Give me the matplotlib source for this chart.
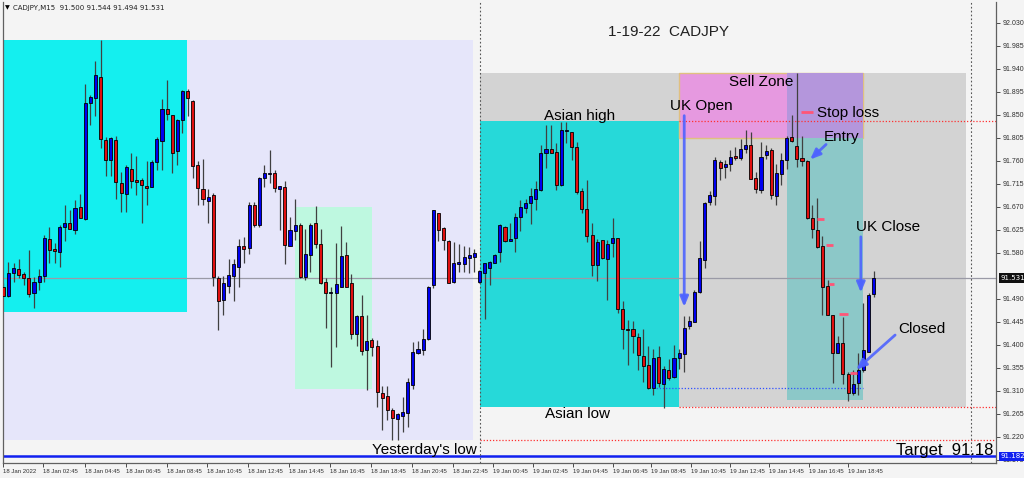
"""CADJPY M15 chart, 18-19 Jan 2022, with session boxes and trade notes."""

import matplotlib as mpl
import matplotlib.pyplot as plt
import matplotlib.transforms as mtransforms
from matplotlib.patches import Rectangle
import numpy as np

mpl.rcParams["font.family"] = ["Liberation Sans", "DejaVu Sans"]

# ---- candles (M15), bar 0 = first visible bar --------------------------------
OPEN = [
    91.514, 91.495, 91.541, 91.549, 91.538, 91.530, 91.501, 91.523, 91.534, 91.607,
    91.588, 91.581, 91.630, 91.639, 91.625, 91.669, 91.646, 91.873, 91.884, 91.924,
    91.801, 91.761, 91.801, 91.716, 91.695, 91.744, 91.722, 91.722, 91.711, 91.710,
    91.758, 91.800, 91.862, 91.850, 91.780, 91.840, 91.896, 91.878, 91.752, 91.706,
    91.682, 91.693, 91.530, 91.487, 91.516, 91.534, 91.553, 91.594, 91.589, 91.674,
    91.635, 91.726, 91.735, 91.737, 91.706, 91.710, 91.594, 91.622, 91.635, 91.532,
    91.576, 91.638, 91.598, 91.524, 91.501, 91.501, 91.514, 91.576, 91.521, 91.421,
    91.457, 91.391, 91.410, 91.398, 91.305, 91.300, 91.273, 91.256, 91.260, 91.267,
    91.322, 91.385, 91.390, 91.411, 91.517, 91.658, 91.628, 91.604, 91.523, 91.558,
    91.558, 91.571, 91.573, 91.524, 91.541, 91.551, 91.561, 91.581, 91.631, 91.604,
    91.609, 91.650, 91.667, 91.678, 91.686, 91.703, 91.775, 91.783, 91.777, 91.712,
    91.819, 91.816, 91.787, 91.701, 91.666, 91.615, 91.556, 91.605, 91.568, 91.600,
    91.609, 91.470, 91.431, 91.431, 91.416, 91.378, 91.361, 91.315, 91.376, 91.323,
    91.351, 91.337, 91.374, 91.382, 91.438, 91.444, 91.504, 91.566, 91.679, 91.692,
    91.757, 91.748, 91.754, 91.770, 91.766, 91.783, 91.791, 91.726, 91.703, 91.772,
    91.781, 91.692, 91.734, 91.762, 91.806, 91.789, 91.765, 91.759, 91.648, 91.625,
    91.594, 91.516, 91.459, 91.385, 91.403, 91.343, 91.305, 91.325, 91.350, 91.387,
    91.500,
]
HIGH = [
    91.521, 91.563, 91.560, 91.568, 91.543, 91.586, 91.532, 91.549, 91.615, 91.630,
    91.599, 91.635, 91.673, 91.665, 91.684, 91.695, 91.911, 91.889, 91.956, 91.997,
    91.806, 91.806, 91.808, 91.739, 91.752, 91.775, 91.770, 91.726, 91.759, 91.762,
    91.806, 91.881, 91.918, 91.850, 91.843, 91.899, 91.900, 91.879, 91.759, 91.763,
    91.705, 91.697, 91.534, 91.534, 91.568, 91.568, 91.607, 91.611, 91.680, 91.680,
    91.729, 91.752, 91.781, 91.742, 91.711, 91.720, 91.650, 91.686, 91.638, 91.627,
    91.638, 91.671, 91.626, 91.530, 91.514, 91.599, 91.633, 91.602, 91.539, 91.459,
    91.498, 91.459, 91.413, 91.410, 91.320, 91.320, 91.276, 91.267, 91.299, 91.335,
    91.406, 91.408, 91.431, 91.515, 91.665, 91.659, 91.630, 91.605, 91.602, 91.598,
    91.594, 91.592, 91.587, 91.547, 91.560, 91.564, 91.578, 91.637, 91.633, 91.639,
    91.659, 91.684, 91.685, 91.708, 91.720, 91.791, 91.830, 91.830, 91.795, 91.837,
    91.837, 91.817, 91.798, 91.708, 91.723, 91.639, 91.607, 91.605, 91.605, 91.648,
    91.610, 91.485, 91.449, 91.446, 91.423, 91.431, 91.397, 91.393, 91.397, 91.358,
    91.372, 91.400, 91.393, 91.457, 91.457, 91.508, 91.604, 91.680, 91.702, 91.768,
    91.762, 91.762, 91.782, 91.787, 91.803, 91.821, 91.817, 91.739, 91.798, 91.791,
    91.785, 91.755, 91.775, 91.809, 91.850, 91.932, 91.809, 91.762, 91.674, 91.688,
    91.613, 91.527, 91.459, 91.418, 91.455, 91.348, 91.351, 91.384, 91.483, 91.501,
    91.544,
]
LOW = [
    91.495, 91.494, 91.524, 91.530, 91.517, 91.494, 91.472, 91.508, 91.524, 91.560,
    91.560, 91.553, 91.604, 91.626, 91.618, 91.649, 91.645, 91.830, 91.847, 91.785,
    91.731, 91.731, 91.685, 91.661, 91.661, 91.707, 91.693, 91.638, 91.673, 91.710,
    91.742, 91.742, 91.840, 91.737, 91.752, 91.814, 91.847, 91.726, 91.674, 91.674,
    91.638, 91.515, 91.429, 91.459, 91.501, 91.485, 91.514, 91.560, 91.578, 91.631,
    91.631, 91.710, 91.716, 91.700, 91.625, 91.558, 91.594, 91.605, 91.530, 91.528,
    91.543, 91.589, 91.520, 91.434, 91.356, 91.395, 91.514, 91.514, 91.411, 91.398,
    91.380, 91.312, 91.379, 91.278, 91.234, 91.253, 91.214, 91.214, 91.230, 91.240,
    91.313, 91.382, 91.380, 91.410, 91.511, 91.604, 91.586, 91.521, 91.521, 91.543,
    91.543, 91.541, 91.543, 91.522, 91.450, 91.517, 91.560, 91.563, 91.602, 91.604,
    91.581, 91.622, 91.659, 91.637, 91.664, 91.702, 91.746, 91.775, 91.703, 91.711,
    91.795, 91.762, 91.695, 91.658, 91.602, 91.534, 91.526, 91.568, 91.487, 91.573,
    91.462, 91.393, 91.361, 91.385, 91.351, 91.328, 91.313, 91.302, 91.318, 91.276,
    91.331, 91.335, 91.352, 91.348, 91.432, 91.444, 91.501, 91.550, 91.673, 91.673,
    91.723, 91.727, 91.740, 91.762, 91.761, 91.775, 91.724, 91.698, 91.698, 91.763,
    91.685, 91.674, 91.713, 91.744, 91.798, 91.748, 91.750, 91.646, 91.609, 91.589,
    91.459, 91.459, 91.326, 91.384, 91.324, 91.291, 91.302, 91.302, 91.348, 91.387,
    91.494,
]
CLOSE = [
    91.496, 91.541, 91.551, 91.536, 91.530, 91.500, 91.523, 91.535, 91.609, 91.585,
    91.584, 91.631, 91.638, 91.626, 91.667, 91.649, 91.874, 91.886, 91.928, 91.802,
    91.762, 91.804, 91.718, 91.698, 91.748, 91.720, 91.719, 91.712, 91.708, 91.757,
    91.802, 91.862, 91.851, 91.776, 91.840, 91.897, 91.883, 91.750, 91.708, 91.685,
    91.690, 91.532, 91.486, 91.521, 91.537, 91.558, 91.594, 91.588, 91.674, 91.635,
    91.726, 91.736, 91.737, 91.708, 91.711, 91.596, 91.624, 91.635, 91.532, 91.578,
    91.635, 91.598, 91.522, 91.501, 91.504, 91.519, 91.574, 91.514, 91.421, 91.457,
    91.389, 91.408, 91.395, 91.307, 91.297, 91.273, 91.258, 91.265, 91.269, 91.327,
    91.387, 91.392, 91.411, 91.514, 91.665, 91.625, 91.605, 91.522, 91.560, 91.562,
    91.573, 91.576, 91.579, 91.545, 91.560, 91.562, 91.575, 91.635, 91.604, 91.607,
    91.650, 91.669, 91.678, 91.691, 91.705, 91.775, 91.783, 91.775, 91.712, 91.821,
    91.821, 91.788, 91.700, 91.666, 91.613, 91.556, 91.602, 91.570, 91.598, 91.609,
    91.470, 91.431, 91.429, 91.418, 91.380, 91.359, 91.315, 91.375, 91.326, 91.352,
    91.335, 91.374, 91.384, 91.434, 91.446, 91.503, 91.570, 91.678, 91.693, 91.761,
    91.747, 91.755, 91.767, 91.765, 91.783, 91.791, 91.724, 91.706, 91.768, 91.780,
    91.693, 91.736, 91.762, 91.804, 91.800, 91.764, 91.759, 91.648, 91.626, 91.591,
    91.514, 91.459, 91.385, 91.404, 91.343, 91.305, 91.324, 91.351, 91.390, 91.498,
    91.531,
]

# session / zone boxes: (first bar, last bar, low, high)
PREV_DAY_BOX = (-0.1, 91.7, 91.214, 91.997)
MORNING_BOX = (-0.1, 35.9, 91.464, 91.997)
AFTERNOON_BOX = (57.0, 72.0, 91.314, 91.670)
TODAY_BOX = (93.1, 188.0, 91.279, 91.932)
ASIAN_BOX = (93.1, 132.0, 91.279, 91.838)
SELL_ZONE = (132.0, 167.9, 91.805, 91.932)
TRADE_BOX = (153.1, 167.9, 91.292, 91.932)

BID = 91.531
TARGET = 91.182
ASIAN_HIGH = 91.838
ASIAN_LOW = 91.279
YESTERDAY_LOW = 91.214
ENTRY_LEVEL = 91.315

# trailing stop marks: (bar from, bar to, price)
STOP_MARKS = [
    (155.9, 158.1, 91.855),
    (158.9, 160.4, 91.647),
    (160.7, 162.1, 91.595),
    (161.3, 162.3, 91.519),
    (163.3, 165.0, 91.461),
    (165.4, 166.7, 91.346),
]

PRICE_TICKS = [92.030, 91.985, 91.940, 91.895, 91.850, 91.805, 91.760, 91.715,
               91.670, 91.625, 91.580, 91.490, 91.445, 91.400, 91.355, 91.310,
               91.265, 91.220, 91.175]
TIME_TICKS = [0, 7.8, 16.0, 24.0, 32.0, 39.8, 47.8, 55.8, 63.8, 71.8, 79.8,
              87.8, 95.7, 103.5, 111.2, 119.0, 126.5, 134.3, 142.0, 149.6,
              157.4, 165.0]
TIME_LABELS = ["18 Jan 2022", "18 Jan 02:45", "18 Jan 04:45", "18 Jan 06:45",
               "18 Jan 08:45", "18 Jan 10:45", "18 Jan 12:45", "18 Jan 14:45",
               "18 Jan 16:45", "18 Jan 18:45", "18 Jan 20:45", "18 Jan 22:45",
               "19 Jan 00:45", "19 Jan 02:45", "19 Jan 04:45", "19 Jan 06:45",
               "19 Jan 08:45", "19 Jan 10:45", "19 Jan 12:45", "19 Jan 14:45",
               "19 Jan 16:45", "19 Jan 18:45"]

BG = "#F4F4F4"


def box(ax, spec, color, z=0.5, **kw):
    x0, x1, lo, hi = spec
    ax.add_patch(Rectangle((x0, lo), x1 - x0, hi - lo, facecolor=color,
                           edgecolor=kw.pop("edgecolor", "none"),
                           zorder=z, **kw))


def main():
    fig = plt.figure(figsize=(10.24, 4.78), dpi=100, facecolor=BG)
    ax = fig.add_axes([3 / 1024, 15 / 478, 993 / 1024, 461 / 478])
    ax.set_facecolor(BG)
    ax.set_xlim(-0.06, 193.9)
    ax.set_ylim(91.169, 92.071)

    # background zones
    box(ax, PREV_DAY_BOX, "#E6E6FA", z=0.2)
    box(ax, MORNING_BOX, "#14EFEF", z=0.3)
    box(ax, AFTERNOON_BOX, "#BEF8E0", z=0.3)
    box(ax, TODAY_BOX, "#D3D3D3", z=0.2)
    box(ax, ASIAN_BOX, "#26D9D9", z=0.3)
    box(ax, SELL_ZONE, "#E699E0", z=0.3, edgecolor="#E0C080", linewidth=1.0)
    box(ax, TRADE_BOX, "#8CC8C8", z=0.35)
    x0, x1, _, hi = TRADE_BOX
    box(ax, (x0, x1, SELL_ZONE[2], hi), "#B496DC", z=0.36)

    # horizontal levels
    ax.axhline(BID, color="#9A9AA6", lw=0.9, zorder=1)
    ax.axhline(TARGET, color="#1020F0", lw=1.8, zorder=1)
    ax.plot([93.1, 193.9], [YESTERDAY_LOW] * 2, color="#FF3030", lw=0.9,
            ls=(0, (1, 1.5)), zorder=1)
    ax.plot([132.0, 193.9], [ASIAN_HIGH] * 2, color="#FF3030", lw=0.9,
            ls=(0, (1, 1.5)), zorder=1)
    ax.plot([132.0, 193.9], [ASIAN_LOW] * 2, color="#FF3030", lw=0.9,
            ls=(0, (1, 1.5)), zorder=1)
    ax.plot([127.0, 168.0], [ENTRY_LEVEL] * 2, color="#3050FF", lw=0.9,
            ls=(0, (1, 1.5)), zorder=1)
    for xv in (93.1, 189.0):
        ax.axvline(xv, color="#555555", lw=0.8, ls=(0, (1.5, 2)), zorder=1)

    # candles
    idx = np.arange(len(OPEN))
    o, h, l, c = map(np.asarray, (OPEN, HIGH, LOW, CLOSE))
    ax.vlines(idx, l, h, color="#404040", lw=0.9, zorder=2)
    up = c >= o
    body_lo = np.minimum(o, c)
    body_h = np.maximum(np.abs(c - o), 0.0015)
    ax.bar(idx[up], body_h[up], bottom=body_lo[up], width=0.6,
           color="#0000F0", edgecolor="black", linewidth=0.6, zorder=3)
    ax.bar(idx[~up], body_h[~up], bottom=body_lo[~up], width=0.6,
           color="#E01010", edgecolor="black", linewidth=0.6, zorder=3)

    # trailing stop marks
    for a, b, p in STOP_MARKS:
        ax.plot([a, b], [p, p], color="#FF5577", lw=2.0, zorder=4,
                solid_capstyle="butt")

    # arrows
    arrow_kw = dict(arrowstyle="-|>,head_length=0.6,head_width=0.25",
                    color="#4E63FF", lw=2.0, alpha=0.9)
    ax.annotate("", xy=(133.0, 91.469), xytext=(133.0, 91.854),
                arrowprops=arrow_kw, zorder=5)
    ax.annotate("", xy=(157.2, 91.759), xytext=(161.1, 91.796),
                arrowprops=arrow_kw, zorder=5)
    ax.annotate("", xy=(167.5, 91.497), xytext=(167.5, 91.617),
                arrowprops=arrow_kw, zorder=5)
    ax.annotate("", xy=(166.2, 91.348), xytext=(174.6, 91.423),
                arrowprops=arrow_kw, zorder=5)

    # labels
    fs = 11
    ax.text(130.0, 92.012, "1-19-22  CADJPY", ha="center", va="center",
            fontsize=fs, color="#202020")
    ax.text(148.0, 91.914, "Sell Zone", ha="center", va="center", fontsize=fs)
    ax.text(136.3, 91.867, "UK Open", ha="center", va="center", fontsize=fs)
    ax.text(159.0, 91.854, "Stop loss", ha="left", va="center", fontsize=fs)
    ax.text(163.8, 91.806, "Entry", ha="center", va="center", fontsize=fs)
    ax.text(112.5, 91.848, "Asian high", ha="center", va="center", fontsize=fs)
    ax.text(172.8, 91.630, "UK Close", ha="center", va="center", fontsize=fs)
    ax.text(179.5, 91.431, "Closed", ha="center", va="center", fontsize=fs)
    ax.text(112.2, 91.265, "Asian low", ha="center", va="center", fontsize=fs)
    ax.text(92.4, 91.194, "Yesterday's low", ha="right", va="center",
            fontsize=fs)
    ax.text(193.4, 91.194, "Target  91.18", ha="right", va="center",
            fontsize=12)
    ax.text(0.0025, 0.993, "\u25bc", transform=ax.transAxes, fontsize=4.5,
            ha="left", va="top", family="DejaVu Sans")
    ax.text(0.0105, 0.993, "CADJPY,M15  91.500 91.544 91.494 91.531",
            transform=ax.transAxes, fontsize=5, ha="left", va="top",
            family="DejaVu Sans", color="#202020")

    # axes styling
    ax.spines["top"].set_visible(False)
    for side in ("left", "right", "bottom"):
        ax.spines[side].set_color("#606060")
        ax.spines[side].set_linewidth(0.9)
    ax.yaxis.tick_right()
    ax.set_yticks(PRICE_TICKS)
    ax.set_yticklabels([f"{p:.3f}" for p in PRICE_TICKS])
    ax.tick_params(axis="y", length=3, width=0.6, pad=2, labelsize=5,
                   colors="#303030")
    ax.set_xticks(TIME_TICKS)
    ax.set_xticklabels(TIME_LABELS, ha="left")
    ax.tick_params(axis="x", length=3, width=0.6, pad=1.5, labelsize=4.3,
                   colors="#303030")

    blend = mtransforms.blended_transform_factory(ax.transAxes, ax.transData)
    for val, fc in ((BID, "#101010"), (TARGET, "#1020F0")):
        ax.text(1.0045, val, f"{val:.3f}", transform=blend, fontsize=5,
                color="white", ha="left", va="center", family="DejaVu Sans",
                bbox=dict(boxstyle="square,pad=0.25", fc=fc, ec="none"),
                clip_on=False, zorder=10)

    fig.savefig("out.png", dpi=100, facecolor=BG)


if __name__ == "__main__":
    main()
